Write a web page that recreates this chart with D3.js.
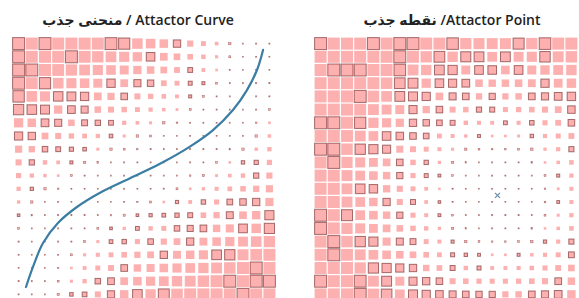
<!DOCTYPE html>
<html><head><meta charset="utf-8">
<script src="https://cdn.jsdelivr.net/npm/d3@7"></script>
<style>html,body{margin:0;padding:0;background:#fff;}svg{display:block;}</style>
</head><body>
<script>
// ---- data ----
const titles = ["منحنی جذب / Attactor Curve", "نقطه جذب /Attactor Point"];
const gridCols = 20, gridRows = 20;
// attractor curve control points (grid units)
const curveX = [1.06, 1.59, 2.35, 3.48, 4.92, 6.67, 8.94, 11.21, 13.48, 15.23, 16.74, 17.80, 18.56, 19.02];
const curveY = [18.94, 17.42, 15.61, 14.09, 12.88, 11.80, 10.70, 9.60, 8.30, 7.05, 5.53, 4.02, 2.50, 0.98];
// attractor point (grid units)
const pointX = [13.9];
const pointY = [12.0];

const W = 579, H = 298;
const cell = 13.2;
const panels = [{x0: 12, y0: 37}, {x0: 314, y0: 37}];
const fillCol = "#fdb0b0", strokeCol = "rgba(105,30,30,0.6)";

const svg = d3.select("body").append("svg").attr("width", W).attr("height", H);

function outlined(i, j, k) {
  const h = Math.sin(i * 12.9898 + j * 78.233 + k * 37.719) * 43758.5453;
  return (h - Math.floor(h)) < 0.33;
}

panels.forEach((p, k) => {
  const xs = d3.scaleLinear().domain([0, gridCols]).range([p.x0, p.x0 + gridCols * cell]);
  const ys = d3.scaleLinear().domain([0, gridRows]).range([p.y0, p.y0 + gridRows * cell]);
  const g = svg.append("g");
  const cx = (i) => xs(i + 0.5), cy = (j) => ys(j + 0.5);

  let distFn, sizeFn, lineD;
  if (k === 0) {
    const line = d3.line().x(d => xs(d[0])).y(d => ys(d[1])).curve(d3.curveCatmullRom.alpha(0.5));
    const pts = curveX.map((v, i) => [v, curveY[i]]);
    lineD = line(pts);
    const tmp = g.append("path").attr("d", lineD).attr("fill", "none");
    const node = tmp.node();
    const L = node.getTotalLength();
    const samples = d3.range(0, L + 1, 1).map(t => node.getPointAtLength(t));
    tmp.remove();
    distFn = (x, y) => d3.min(samples, s => Math.hypot(s.x - x, s.y - y));
    sizeFn = d => Math.max(1.2, Math.min(12, (d - 10) * 0.1));
  } else {
    const ax = xs(pointX[0]), ay = ys(pointY[0]);
    distFn = (x, y) => Math.hypot(x - ax, y - ay);
    sizeFn = d => Math.max(1.2, Math.min(12, (d - 30) * 0.09));
  }

  const cells = [];
  for (let j = 0; j < gridRows; j++) for (let i = 0; i < gridCols; i++) {
    const d = distFn(cx(i), cy(j));
    cells.push({i, j, s: sizeFn(d)});
  }
  g.selectAll("rect").data(cells).join("rect")
    .attr("x", d => cx(d.i) - d.s / 2)
    .attr("y", d => cy(d.j) - d.s / 2)
    .attr("width", d => d.s).attr("height", d => d.s)
    .attr("fill", fillCol)
    .attr("stroke", d => outlined(d.i, d.j, k) || d.s < 2.5 ? strokeCol : "none")
    .attr("stroke-width", d => d.s < 2.5 ? 0.5 : 1);

  if (k === 0) {
    g.append("path").attr("d", lineD).attr("fill", "none")
      .attr("stroke", "#3c7da3").attr("stroke-width", 2.2).attr("stroke-linecap", "round");
  } else {
    const ax = xs(pointX[0]), ay = ys(pointY[0]);
    g.append("path").attr("d", `M${ax-2.5},${ay-2.5}L${ax+2.5},${ay+2.5}M${ax-2.5},${ay+2.5}L${ax+2.5},${ay-2.5}`)
      .attr("stroke", "#6f8fa8").attr("stroke-width", 1.3);
  }

  svg.append("text")
    .attr("x", k === 0 ? 138 : 452).attr("y", 25)
    .attr("text-anchor", "middle")
    .attr("direction", "ltr")
    .attr("font-family", "'Open Sans', 'DejaVu Sans', sans-serif")
    .attr("font-weight", 600).attr("font-size", 14)
    .attr("fill", "#222")
    .text(titles[k]);
});
</script>
</body></html>
